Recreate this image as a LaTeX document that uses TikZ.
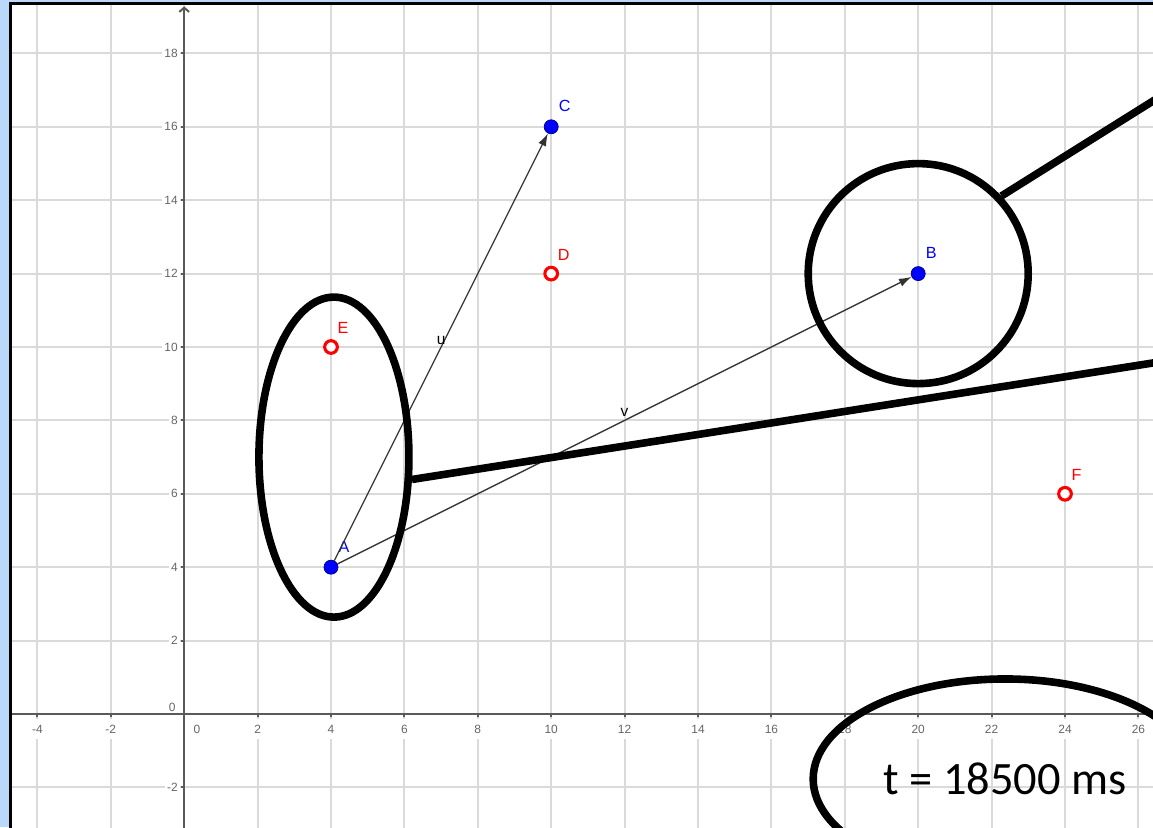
\documentclass[tikz,border=0pt]{standalone}
\usepackage{fontspec}
\setmainfont{Liberation Sans}
\newfontfamily\calibri{Carlito}
\usetikzlibrary{positioning,arrows.meta,shapes.geometric}
\definecolor{framebl}{RGB}{185,216,250}
\definecolor{gridgr}{RGB}{218,218,218}
\definecolor{axisgr}{RGB}{90,90,90}

\begin{document}
\begin{tikzpicture}[
    x=0.9175cm, y=0.9175cm,
    gridline/.style={gridgr, line width=1.3pt},
    axisline/.style={axisgr, line width=1.4pt},
    ticklbl/.style={fill=white, text=black!60, font=\fontsize{8.5}{10}\selectfont,
                    inner xsep=1.5pt, inner ysep=4pt},
    bpt/.style={circle, fill=blue, draw=blue!50!black, line width=0.5pt,
                minimum size=10pt, inner sep=0pt},
    rpt/.style={circle, fill=white, draw=red, line width=2.2pt,
                minimum size=9pt, inner sep=0pt},
    blbl/.style={text=blue, font=\fontsize{11.5}{13}\selectfont, inner sep=0pt},
    rlbl/.style={text=red, font=\fontsize{11.5}{13}\selectfont, inner sep=0pt},
    vlbl/.style={text=black, font=\fontsize{11}{13}\selectfont, inner sep=0pt},
    vec/.style={black!80, line width=0.9pt, -{Latex[length=9pt,width=6pt]}},
    ring/.style={draw=black, line width=5.4pt, inner sep=0pt},
    fat/.style={black, line width=5.4pt},
  ]
  % frame
  \useasboundingbox (-5.019,-3.079) rectangle (26.398,19.455);
  \fill[framebl] (-5.019,-3.079) rectangle (26.398,19.455);
  \begin{scope}
    \clip (-4.738,-3.2) rectangle (26.5,19.354);
    \fill[white] (-4.738,-3.2) rectangle (26.5,19.354);
    % grid and axes
    \draw[gridline] (-4.738,-3.2) grid[step=2] (26.5,19.354);
    \draw[axisline] (-4.8,0) -- (26.5,0);
    \draw[axisline, -{Straight Barb[length=3pt,width=7pt]}] (0,-3.2) -- (0,19.28);
    \foreach \t in {-4,-2,2,4,...,26} {
      \draw[axisline] (\t,0) -- (\t,-0.09);
      \node[ticklbl] (xt\t) at (\t,-0.41) {\t};
    }
    \foreach \t in {-2,2,4,...,18} {
      \draw[axisline] (0,\t) -- (-0.09,\t);
      \node[ticklbl, anchor=east] (yt\t) at (-0.11,\t) {\t};
    }
    \node[ticklbl] (xt0) at (0.35,-0.41) {0};
    \node[ticklbl, fill=none] (yt0) at (-0.33,0.19) {0};

    % points
    \node[bpt] (A) at (4,4) {};
    \node[bpt] (C) at (10,16) {};
    \node[bpt] (B) at (20,12) {};
    \node[rpt] (D) at (10,12) {};
    \node[rpt] (E) at (4,10) {};
    \node[rpt] (F) at (24,6) {};
    \node[blbl, above right=6.5pt and 1.5pt of A] (lA) {A};
    \node[blbl, above right=6.5pt and 1.5pt of C] (lC) {C};
    \node[blbl, above right=6.5pt and 1.5pt of B] (lB) {B};
    \node[rlbl, above right=5.5pt and 0.5pt of D] (lD) {D};
    \node[rlbl, above right=5.5pt and 0.5pt of E] (lE) {E};
    \node[rlbl, above right=5.5pt and 0.5pt of F] (lF) {F};

    % vectors
    \draw[vec] (A) -- (C) node[vlbl, midway, above=1pt] (lu) {u};
    \draw[vec] (A) -- (B) node[vlbl, midway, above=2.5pt] (lv) {v};

    % highlight rings
    \node[ring, ellipse, minimum width=3.75cm, minimum height=8.0cm] (aring) at (4.08,7.0) {};
    \node[ring, circle, minimum size=5.5cm] (bring) at (B) {};
    \node[ring, ellipse, minimum width=9.6cm, minimum height=5cm,
          font=\calibri\fontsize{33}{40}\selectfont] (tring) at (22.37,-1.77) {t = 18500 ms};
    \coordinate (bend) at (27,17.08);
    \coordinate (aend) at (27,9.66);
    \draw[fat] (bring.43) -- (bend);
    \draw[fat] (aring.-16) -- (aend);
  \end{scope}
  \draw[black, line width=1.8pt] (-4.738,-3.3) |- (26.5,19.354);
\end{tikzpicture}
\end{document}
